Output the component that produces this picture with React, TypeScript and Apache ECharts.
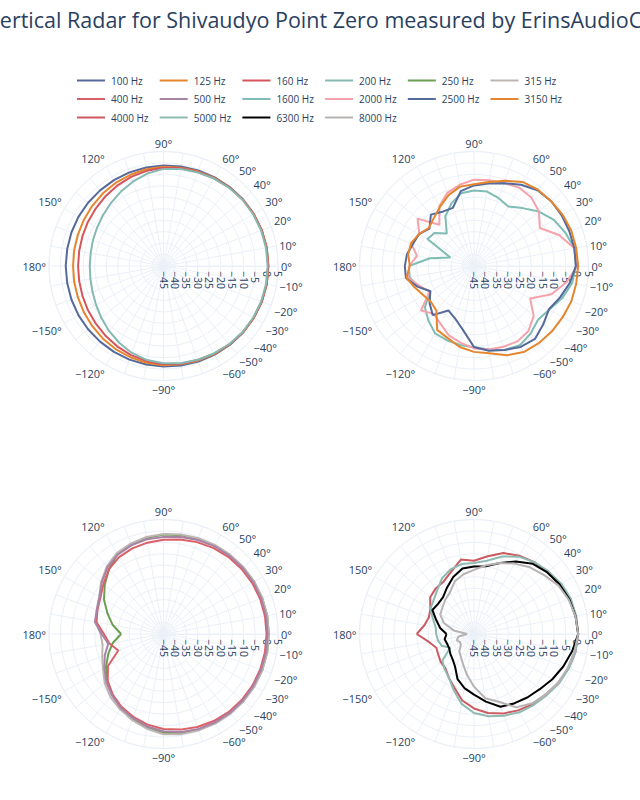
import React, { useEffect, useRef } from "react";
import * as echarts from "echarts";

const TITLE = "Vertical Radar for Shivaudyo Point Zero measured by ErinsAudioCorner";

// angles (degrees) of every measurement, -180 .. 180
const ANGLES = [
  -180, -170, -160, -150, -140, -130, -120, -110, -100, -90, -80, -70, -60, -50, -40, -30, -20, -10,
  0, 10, 20, 30, 40, 50, 60, 70, 80, 90, 100, 110, 120, 130, 140, 150, 160, 170, 180,
];

// angular tick labels that are shown
const ANGLE_LABELS = [0, 10, 20, 30, 40, 50, 60, 90, 120, 150, 180, -150, -120, -90, -60, -50, -40, -30, -20, -10];

// radial axis (dB)
const R_MIN = -45;
const R_MAX = 5;
const R_STEP = 5;

const FREQS = [
  "100 Hz", "125 Hz", "160 Hz", "200 Hz",
  "250 Hz", "315 Hz", "400 Hz", "500 Hz",
  "1600 Hz", "2000 Hz", "2500 Hz", "3150 Hz",
  "4000 Hz", "5000 Hz", "6300 Hz", "8000 Hz",
];

const COLORS = [
  "#55699b", "#e5862f", "#d6545a", "#86b9b1",
  "#6a9e50", "#bdb6b3", "#db5f66", "#a983a6",
  "#7fbcb3", "#f5a2ab", "#55699b", "#e5862f",
  "#cc5a60", "#8fbab2", "#000000", "#b8b3b3",
];

// polar index for each series: 0 top-left, 1 top-right, 2 bottom-left, 3 bottom-right
const SUBPLOT = [0, 0, 0, 0, 2, 2, 2, 2, 1, 1, 1, 1, 3, 3, 3, 3];

const LEGEND_ROWS = [
  ["100 Hz", "125 Hz", "160 Hz", "200 Hz", "250 Hz", "315 Hz"],
  ["400 Hz", "500 Hz", "1600 Hz", "2000 Hz", "2500 Hz", "3150 Hz"],
  ["4000 Hz", "5000 Hz", "6300 Hz", "8000 Hz"],
];

// values in dB, one per angle in ANGLES
const hz100 = [-2.3, -2.3, -2.2, -2.1, -2.0, -1.9, -1.7, -1.5, -1.3, -1.1, -0.9, -0.6, -0.3, 0, 0.3, 0.5, 0.7, 0.8, 0.8, 0.8, 0.7, 0.5, 0.3, 0, -0.3, -0.6, -0.9, -1.1, -1.3, -1.5, -1.7, -1.9, -2.0, -2.1, -2.2, -2.3, -2.3];
const hz125 = [-5.5, -5.4, -5.2, -4.8, -4.3, -3.7, -3.1, -2.6, -2.1, -1.7, -1.4, -1.0, -0.6, -0.2, 0.2, 0.5, 0.7, 0.8, 0.8, 0.8, 0.7, 0.5, 0.2, -0.2, -0.6, -1.0, -1.4, -1.7, -2.1, -2.6, -3.1, -3.7, -4.3, -4.8, -5.2, -5.4, -5.5];
const hz160 = [-7.7, -7.6, -7.3, -6.8, -6.2, -5.4, -4.5, -3.6, -2.8, -2.1, -1.7, -1.3, -0.8, -0.3, 0.1, 0.4, 0.6, 0.7, 0.7, 0.7, 0.6, 0.4, 0.1, -0.3, -0.8, -1.3, -1.7, -2.1, -2.8, -3.6, -4.5, -5.4, -6.2, -6.8, -7.3, -7.6, -7.7];
const hz200 = [-12.8, -12.6, -12.0, -11.0, -9.6, -8.0, -6.3, -4.6, -3.3, -2.5, -1.9, -1.4, -0.9, -0.4, 0, 0.2, 0.4, 0.5, 0.5, 0.5, 0.4, 0.2, 0, -0.4, -0.9, -1.5, -2.0, -2.6, -4.0, -5.8, -7.6, -9.2, -10.5, -11.5, -12.2, -12.7, -12.8];

const hz250 = [-26.5, -22.5, -19.3, -16, -13, -10.3, -7.8, -5.6, -3.4, -1.8, -1.1, -0.6, -0.2, 0.2, 0.5, 0.7, 0.9, 1, 1, 1, 0.9, 0.7, 0.4, 0, -0.4, -0.8, -1.2, -1.6, -2.4, -3.4, -4.8, -8, -11.5, -15, -19, -22.5, -26.5];
const hz315 = [-17.5, -18, -16.5, -14.5, -11.5, -9, -7, -5, -3, -1.2, -0.6, -0.2, 0.2, 0.5, 0.7, 0.9, 1, 1, 1, 1, 0.9, 0.7, 0.5, 0.2, -0.1, -0.5, -0.9, -1.3, -2, -3, -4.2, -6.5, -9.5, -12.5, -14, -15, -17.5];
const hz400 = [-19, -21, -24, -17, -13.2, -10.5, -8.3, -6.5, -4.8, -3.5, -2.6, -1.8, -1.1, -0.6, -0.3, -0.1, 0, 0, 0, 0, -0.1, -0.3, -0.6, -1, -1.6, -2.3, -3.1, -3.8, -4.5, -5.2, -6.2, -8, -10.8, -13.2, -14.3, -15.3, -19];
const hz500 = [-18, -20.5, -17.7, -15.2, -12.4, -10, -7.7, -6, -4, -2.5, -1.5, -0.8, -0.3, 0, 0.2, 0.3, 0.4, 0.5, 0.5, 0.5, 0.4, 0.3, 0, -0.3, -0.7, -1.3, -2, -2.6, -3, -3.8, -5, -7, -9.8, -12.8, -14, -14.6, -18];

const hz1600 = [-16.5, -16.5, -19, -23, -17, -14, -11, -10.5, -10, -9.5, -8, -6, -5, -6.5, -8.5, -7, -4, -1.5, -0.5, -0.5, -2.5, -4.7, -8, -12, -15, -13.5, -12, -12, -12.7, -16, -20, -26.5, -22.5, -21.5, -34, -25.5, -16.5];
const hz2000 = [-16.7, -15.7, -19.7, -22.6, -14.8, -17.7, -15.8, -12.8, -11, -9, -8, -7.5, -7, -8, -11, -16.7, -9, -4, 0, -0.5, -5.5, -11.8, -8, -6, -5.5, -6.5, -7, -7.3, -9, -11, -14.8, -21.5, -12.8, -17.5, -15.8, -19.7, -16.7];
const hz2500 = [-14.8, -14.8, -18.7, -23, -19.7, -17, -22.6, -20.7, -16.8, -9.6, -7.4, -6, -4.2, -3.5, -5.5, -7.2, -5, -2.5, -0.5, -0.5, -0.7, -0.8, -1, -1.8, -4, -6.5, -8.4, -9.8, -11.8, -18, -17.6, -15.7, -19.6, -17.2, -16.7, -15.3, -14.8];
const hz3150 = [-17, -15, -17.5, -19.5, -20.5, -19.5, -12.8, -11.5, -9.1, -7.5, -6.3, -3.5, -1.6, -1, -0.6, -0.3, 0.2, 0.3, 0.5, 0.3, 0.2, -0.3, -1, -1.5, -2.6, -5.4, -7.8, -9.3, -9.8, -12.2, -15.2, -17.7, -19.2, -17.2, -15.8, -15.8, -17];

const hz4000 = [-20, -25, -27.5, -27, -26, -25.5, -23, -20, -15.5, -12.5, -10, -8, -6.5, -5, -4, -2.5, -1, 0, 0.5, 0.2, -0.3, -1.8, -3, -4, -5.5, -7.4, -10.5, -13, -12, -16, -18.5, -19, -20, -23, -24, -23, -20];
const hz5000 = [-28.5, -29, -30, -33, -27, -25, -23, -19, -14, -10.5, -8.5, -7, -5.5, -4.5, -3.5, -2, -1, 0, 0.5, 0.3, 0, -1, -2.5, -4, -6, -9, -12.5, -14, -14, -15, -17, -20, -22, -23, -26, -28, -28.5];
const hz6300 = [-33, -32, -32.5, -32.5, -31.5, -30.5, -28.5, -24, -21, -18.5, -15, -11.2, -10, -8.8, -7.5, -5.5, -3.5, -1.5, 0.5, 0, -0.7, -1.8, -3.2, -5, -8.5, -12, -15, -15.5, -16, -18.5, -21.5, -24, -24.5, -24, -27.5, -30, -33];
const hz8000 = [-42, -38, -37, -38, -37.5, -35, -33.5, -31, -27, -22, -16.5, -13.5, -8, -5.5, -4, -2.5, -1.5, -0.5, 0.5, 0, -1, -2.5, -5, -7, -9.5, -12, -14.5, -17, -18.5, -20.5, -24, -25.5, -27, -28, -31, -36, -42];

const VALUES = [
  hz100, hz125, hz160, hz200,
  hz250, hz315, hz400, hz500,
  hz1600, hz2000, hz2500, hz3150,
  hz4000, hz5000, hz6300, hz8000,
];

const CENTERS: [number, number][] = [
  [163.5, 266],
  [474, 266],
  [163.5, 634],
  [474, 634],
];
const RADIUS = 114.5;
const TEXT = "#2a3f5f";
const GRID = "#ebf0f8";
const FONT = "Open Sans";

const LEGEND_LEFT = 77;
const LEGEND_PITCH = 82.7;
const LEGEND_TOPS = [75.5, 94, 112.5];

const minus = (v: number) => (v < 0 ? "\u2212" + Math.abs(v) : String(v));

export default function App() {
  const ref = useRef<HTMLDivElement>(null);
  useEffect(() => {
    if (!ref.current) return;
    const chart = echarts.init(ref.current, undefined, { renderer: "svg" });
    const legends: any[] = [];
    LEGEND_ROWS.forEach((row, r) => {
      row.forEach((name, c) => {
        legends.push({
          data: [name],
          left: LEGEND_LEFT + c * LEGEND_PITCH,
          top: LEGEND_TOPS[r],
          orient: "horizontal",
          padding: 0,
          itemWidth: 28,
          itemHeight: 2,
          icon: "rect",
          selectedMode: false,
          textStyle: { color: TEXT, fontSize: 10, fontFamily: FONT, padding: [0, 0, 0, 1] },
        });
      });
    });
    const option: any = {
      animation: false,
      backgroundColor: "#ffffff",
      textStyle: { fontFamily: FONT },
      title: {
        text: TITLE,
        left: -13,
        top: 8,
        padding: 0,
        textStyle: { fontFamily: FONT, fontSize: 21.5, fontWeight: "normal", color: TEXT },
      },
      legend: legends,
      polar: CENTERS.map((c) => ({ center: c, radius: RADIUS })),
      angleAxis: CENTERS.map((_, i) => ({
        polarIndex: i,
        type: "value",
        min: 0,
        max: 360,
        interval: 10,
        startAngle: 0,
        clockwise: false,
        axisLine: { show: true, lineStyle: { color: GRID, width: 1 } },
        axisTick: { show: false },
        splitLine: { show: true, lineStyle: { color: GRID, width: 1 } },
        axisLabel: {
          margin: 3,
          color: TEXT,
          fontSize: 11,
          fontFamily: FONT,
          formatter: (v: number) => {
            if (v >= 360) return "";
            const d = v > 180 ? v - 360 : v;
            return ANGLE_LABELS.indexOf(d) >= 0 ? minus(d) + "\u00b0" : "";
          },
        },
      })),
      radiusAxis: CENTERS.map((_, i) => ({
        polarIndex: i,
        type: "value",
        min: R_MIN,
        max: R_MAX,
        interval: R_STEP,
        axisLine: { show: true, lineStyle: { color: GRID, width: 1 } },
        axisTick: { show: false },
        splitLine: { show: true, lineStyle: { color: GRID, width: 1 } },
        axisLabel: {
          rotate: -90,
          align: "left",
          verticalAlign: "middle",
          margin: -5,
          color: TEXT,
          fontSize: 10.5,
          fontFamily: FONT,
          formatter: (v: number) => minus(v),
        },
      })),
      series: FREQS.map((name, i) => ({
        name,
        type: "line",
        coordinateSystem: "polar",
        polarIndex: SUBPLOT[i],
        data: VALUES[i].map((v, k) => [v, ANGLES[k] < 0 ? ANGLES[k] + 360 : ANGLES[k]]),
        symbol: "none",
        silent: true,
        lineStyle: { width: 2, color: COLORS[i] },
        itemStyle: { color: COLORS[i] },
      })),
    };
    chart.setOption(option);
    return () => chart.dispose();
  }, []);
  return (
    <div
      ref={ref}
      style={{ position: "absolute", left: 0, top: 0, width: 640, height: 800, background: "#fff" }}
    />
  );
}
